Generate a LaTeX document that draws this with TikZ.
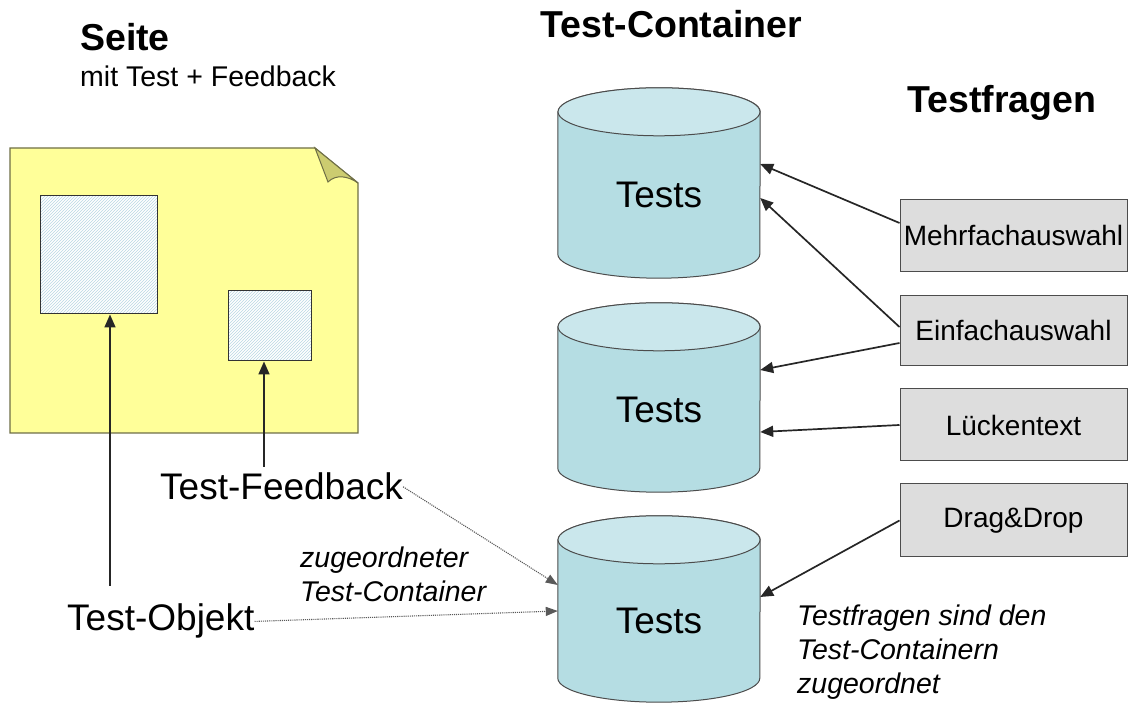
\documentclass[tikz,border=0pt]{standalone}
\usepackage{fontspec}
\setmainfont{Liberation Sans}
\usetikzlibrary{arrows.meta}
\usetikzlibrary{patterns,backgrounds}
\definecolor{seitengelb}{RGB}{255,255,153}
\definecolor{seitenrand}{RGB}{110,110,70}
\definecolor{eselsohr}{RGB}{204,204,112}
\definecolor{schraffur}{RGB}{185,215,228}
\definecolor{mantel}{RGB}{181,221,227}
\definecolor{deckel}{RGB}{202,231,236}
\definecolor{boxgrau}{RGB}{221,221,221}

\begin{document}
\begin{tikzpicture}[
			x=1pt,y=1pt,
			titel/.style={font=\fontsize{37.5}{44}\selectfont\bfseries,anchor=base west,inner sep=0pt},
			untertitel/.style={font=\fontsize{28.5}{34}\selectfont,anchor=base west,inner sep=0pt},
			gross/.style={font=\fontsize{37}{44}\selectfont,anchor=base west,inner sep=0pt},
			kursiv/.style={font=\fontsize{28.5}{34}\selectfont\itshape,anchor=north west,align=left,inner sep=0pt},
			platz/.style={draw=black!80,line width=1pt,preaction={fill=white},inner sep=0pt,
				pattern=north east lines,pattern color=schraffur},
			zyl/.style={minimum width=202pt,inner sep=0pt,font=\fontsize{37}{44}\selectfont},
			frage/.style={draw=black!70,line width=1pt,fill=boxgrau,minimum width=227pt,
				inner sep=0pt,font=\fontsize{28}{34}\selectfont},
			pfeil/.style={-{Triangle[length=13pt,width=11pt]},line width=1.7pt,black!85},
			zuord/.style={-{Triangle[length=12pt,width=9pt]},densely dotted,line width=1.1pt,black!65}
		]
		\useasboundingbox (0,0) rectangle (1130,703);

		% Ueberschriften
		\node[titel] (seite) at (80,652) {Seite};
		\node[untertitel] (seiteinfo) at (80,616) {mit Test + Feedback};
		\node[titel] (container) at (540,665) {Test-Container};
		\node[titel] (fragen) at (907,590) {Testfragen};

		% Seite mit Eselsohr
		\filldraw[fill=seitengelb,draw=seitenrand,line width=1.2pt]
		(10,555) -- (315,555) -- (358,520) -- (358,270) -- (10,270) -- cycle;
		\filldraw[fill=eselsohr,draw=seitenrand,line width=1pt]
		(315,555) -- (328,521) .. controls (336,529) and (348,527) .. (358,520) -- cycle;

		% Platzhalter fuer Test und Feedback
		\node[platz,minimum width=117pt,minimum height=118pt] (objbox) at (98.5,448) {};
		\node[platz,minimum width=83pt,minimum height=70pt] (fbbox) at (269.5,377) {};

		\node[gross] (feedback) at (160,203) {Test-Feedback};
		\node[gross] (objekt) at (67,72) {Test-Objekt};

		\coordinate (objspitze) at ([xshift=11.5pt]objbox.south);
		\coordinate (fbspitze) at ([xshift=-5.5pt]fbbox.south);
		\draw[pfeil] ([yshift=18pt]objekt.north -| objspitze) -- (objspitze);
		\draw[pfeil] ([yshift=6pt]feedback.north -| fbspitze) -- (fbspitze);

		% Test-Container
		\node[zyl,minimum height=166pt] (t1) at (659,508) {Tests};
		\node[zyl,minimum height=165pt] (t2) at (659,293.5) {Tests};
		\node[zyl,minimum height=162pt] (t3) at (659,82) {Tests};

		\begin{scope}[on background layer]
			\foreach \n in {1,2,3} {
				\filldraw[fill=mantel,draw=black!70,line width=1pt]
				(t\n.north west) -- ([yshift=24pt]t\n.south west)
				arc[start angle=180,end angle=360,x radius=101pt,y radius=24pt]
				-- (t\n.north east)
				arc[start angle=0,end angle=180,x radius=101pt,y radius=24pt] -- cycle;
				\filldraw[fill=deckel,draw=black!70,line width=1pt]
				(t\n.north) ellipse[x radius=101pt,y radius=24pt];
			}
		\end{scope}

		% Testfragen
		\node[frage,minimum height=72pt] (mehr) at (1013.5,467) {Mehrfachauswahl};
		\node[frage,minimum height=70pt] (einf) at (1013.5,372) {Einfachauswahl};
		\node[frage,minimum height=72pt] (lueck) at (1013.5,278) {Lückentext};
		\node[frage,minimum height=73pt] (drag) at (1013.5,182.5) {Drag\&Drop};

		\draw[pfeil] ([yshift=13pt]mehr.west) -- ([yshift=31pt]t1.east);
		\draw[pfeil] ([yshift=4pt]einf.west) -- ([yshift=-3pt]t1.east);
		\draw[pfeil] ([yshift=-12pt]einf.west) -- ([yshift=39.5pt]t2.east);
		\draw[pfeil] (lueck.west) -- ([yshift=-22.5pt]t2.east);
		\draw[pfeil] (drag.west) -- ([yshift=24pt]t3.east);

		% Zuordnung Seite -> Container
		\draw[zuord] (feedback.east) -- ([yshift=36pt]t3.west);
		\draw[zuord] (objekt.east) -- ([yshift=10pt]t3.west);
		\node[kursiv] (zuordtext) at (300,156) {zugeordneter\\Test-Container};
		\node[kursiv] (hinweis) at (797,98) {Testfragen sind den\\Test-Containern\\zugeordnet};

	\end{tikzpicture}
\end{document}
